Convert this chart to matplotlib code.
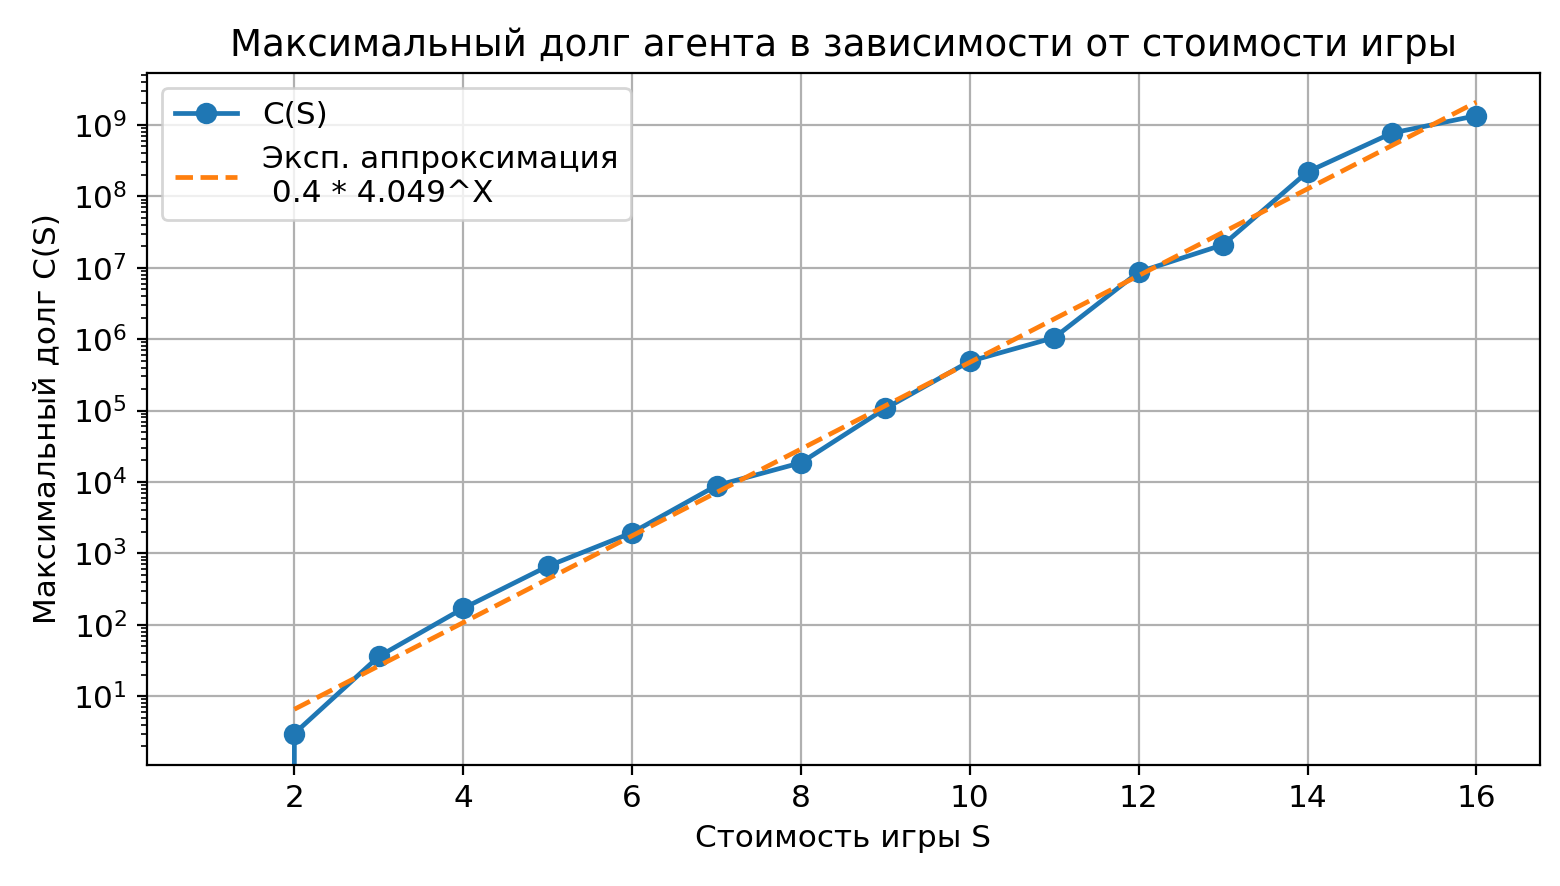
import numpy as np
import matplotlib
matplotlib.use("Agg")
import matplotlib.pyplot as plt

S = [1, 2, 3, 4, 5, 6, 7, 8, 9, 10, 11, 12, 13, 14, 15, 16]
C = [0, 3, 36, 170, 660, 1950, 8900, 18600, 107000, 490000, 1.05e6, 8.7e6, 2.1e7, 2.2e8, 7.7e8, 1.35e9]
fit_a, fit_b = 0.4, 4.049
fit_x = np.array(S[1:], dtype=float)

plt.rcParams['font.size'] = 11.2
plt.rcParams['lines.linewidth'] = 1.7
plt.rcParams['lines.markersize'] = 6.7

fig = plt.figure(figsize=(7.8, 4.43), dpi=200)
ax = fig.add_axes([0.094, 0.137, 0.893, 0.781])
ax.plot(S, C, 'o-', label='C(S)')
ax.plot(fit_x, fit_a * fit_b ** fit_x, '--', label=f'Эксп. аппроксимация\n {fit_a} * {fit_b}^X')
ax.set_yscale('log')
ax.set_ylim(1.1, 5.4e9)
ax.set_xlim(0.25, 16.75)
ax.set_xticks([2, 4, 6, 8, 10, 12, 14, 16])
ax.set_yticks([10**k for k in range(1, 10)])
ax.grid(True)
ax.set_title('Максимальный долг агента в зависимости от стоимости игры', fontsize=13.4)
ax.set_xlabel('Стоимость игры S')
ax.set_ylabel('Максимальный долг C(S)')
ax.legend(loc='upper left')
fig.savefig('out.png', dpi=200)
